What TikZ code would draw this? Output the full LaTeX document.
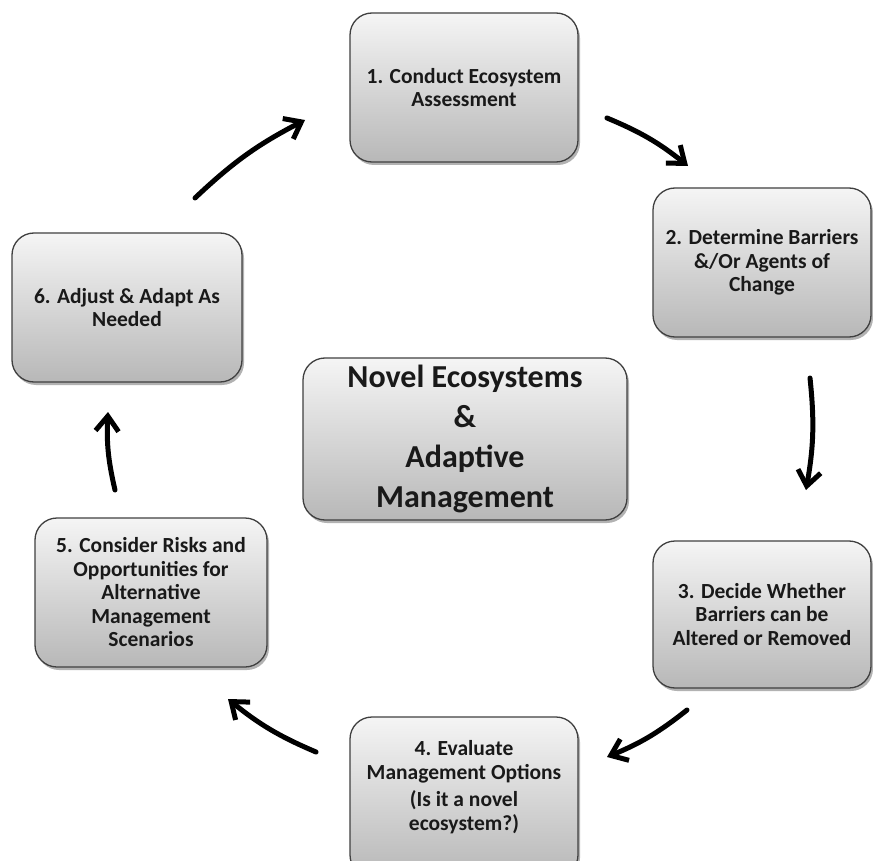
\documentclass[tikz,border=0pt]{standalone}
\usepackage{fontspec}
\setmainfont{Carlito}
\usetikzlibrary{arrows.meta,shadows}
\begin{document}
\begin{tikzpicture}[x=1pt,y=1pt,
  stepbox/.style={draw=black!75, line width=1.3pt, rounded corners=22pt,
    top color=black!4, bottom color=black!28, inner sep=0pt, align=center,
    font=\fontsize{21.5}{23.5}\selectfont\bfseries, text=black!90,
    drop shadow={shadow xshift=2pt, shadow yshift=-3pt, opacity=0.3, fill=black}},
  steptext/.style={inner sep=0pt, align=center,
    font=\fontsize{21.5}{23.5}\selectfont\bfseries, text=black!90},
  cyc/.style={line width=5pt, line cap=round, line join=round,
    -{Straight Barb[length=15pt,width=23pt,line width=5pt]}, bend left=8}
]
\useasboundingbox (0,0) rectangle (873,-861);
\fill[white] (0,0) rectangle (873,-861);

\node[stepbox, minimum width=228pt, minimum height=149pt] (s1) at (464,-87.5)
  {1. Conduct Ecosystem\\Assessment};
\node[stepbox, minimum width=218pt, minimum height=149pt] (s2) at (762,-262.5)
  {2. Determine Barriers\\\&/Or Agents of\\Change};
\node[stepbox, minimum width=218pt, minimum height=147pt] (s3) at (762,-614.5)
  {3. Decide Whether\\Barriers can be\\Altered or Removed};
\node[stepbox, minimum width=228pt, minimum height=160pt] (s4) at (464,-797) {};
\node[steptext] (s4t) at (464,-787)
  {4. Evaluate\\Management Options\\[4pt](Is it a novel\\ecosystem?)};
\node[stepbox, minimum width=232pt, minimum height=149pt] (s5) at (151,-592.5)
  {5. Consider Risks and\\Opportunities for\\Alternative\\Management\\Scenarios};
\node[stepbox, minimum width=230pt, minimum height=149pt] (s6) at (127,-307.5)
  {6. Adjust \& Adapt As\\Needed};
\node[stepbox, minimum width=324pt, minimum height=162pt,
  font=\fontsize{32}{40}\selectfont\bfseries] (c) at (465,-439)
  {Novel Ecosystems\\\&\\Adaptive\\Management};

\coordinate (a1s) at (607,-118);  \coordinate (a1e) at (688,-166);
\coordinate (a2s) at (810,-378);  \coordinate (a2e) at (806,-490);
\coordinate (a3s) at (687,-710);  \coordinate (a3e) at (607,-757);
\coordinate (a4s) at (316,-752);  \coordinate (a4e) at (228,-699);
\coordinate (a5s) at (115,-490);  \coordinate (a5e) at (108,-412);
\coordinate (a6s) at (195,-198);  \coordinate (a6e) at (305,-120);

\draw[cyc] (a1s) to (a1e);
\draw[cyc] (a2s) to (a2e);
\draw[cyc] (a3s) to (a3e);
\draw[cyc] (a4s) to (a4e);
\draw[cyc] (a5s) to (a5e);
\draw[cyc] (a6s) to (a6e);
\end{tikzpicture}
\end{document}
